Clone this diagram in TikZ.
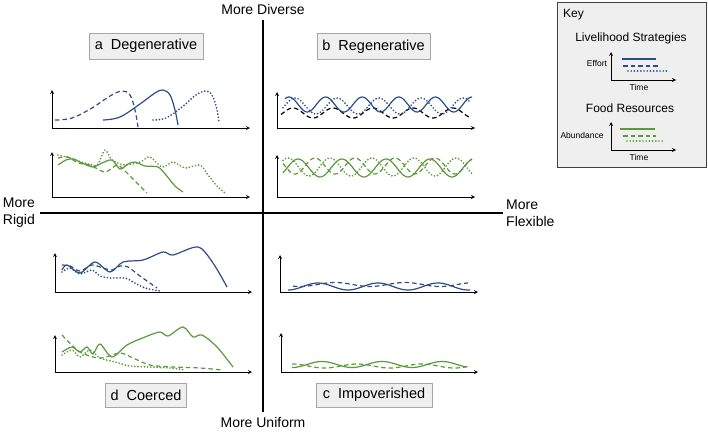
\documentclass[tikz,border=0pt]{standalone}
\usepackage{fontspec}
\setmainfont{Liberation Sans}
\usepackage{tikz}
\usetikzlibrary{positioning}
\definecolor{lblue}{HTML}{2E4D86}
\definecolor{lgreen}{HTML}{5B9A3C}
\definecolor{boxgray}{HTML}{EFEFEF}

\begin{document}
\begin{tikzpicture}[x=1pt, y=-1pt,
    mainaxis/.style={line width=1.6pt, black},
    plotaxis/.style={<->, >=stealth, line width=0.8pt},
    quad/.style={rectangle, draw=black!35, fill=boxgray, minimum height=26pt, inner xsep=5pt, font=\fontsize{14.5}{16}\selectfont},
    axlabel/.style={inner sep=0pt, font=\fontsize{14}{17}\selectfont},
    keytext/.style={inner sep=0pt, font=\fontsize{12}{14}\selectfont},
    small/.style={inner sep=0pt, font=\fontsize{8.5}{10}\selectfont},
    blueline/.style={lblue, line width=1.2pt},
    bluedash/.style={lblue, line width=1.2pt, dash pattern=on 4.5pt off 3pt},
    bluedot/.style={lblue, line width=1.9pt, line cap=round, dash pattern=on 0pt off 3.2pt},
    blackdash/.style={black, line width=1.2pt, dash pattern=on 4.5pt off 3pt},
    greenline/.style={lgreen, line width=1.2pt},
    greendash/.style={lgreen, line width=1.2pt, dash pattern=on 4.5pt off 3pt},
    greendot/.style={lgreen, line width=1.9pt, line cap=round, dash pattern=on 0pt off 3.2pt}]

    \useasboundingbox[fill=white] (0,0) rectangle (708,431);

    % main axes
    \coordinate (top) at (263,20);
    \coordinate (bottom) at (263,412);
    \coordinate (left) at (40,213);
    \coordinate (right) at (503,213);
    \draw [mainaxis] (left) -- (right);
    \draw [mainaxis] (top) -- (bottom);

    \node [axlabel, above=5pt of top] (diverse) {More Diverse};
    \node [axlabel, below=5pt of bottom] (uniform) {More Uniform};
    \node [axlabel, align=left, left=5pt of left] (rigid) {More\\Rigid};
    \node [axlabel, align=left, right=3pt of right] (flexible) {More\\Flexible};

    % quadrant titles
    \node [quad, minimum width=114pt] (qa) at (146,46) {a\ \ Degenerative};
    \node [quad, minimum width=113pt] (qb) at (373.5,46.5) {b\ \ Regenerative};
    \node [quad, minimum width=116pt, minimum height=24pt] (qc) at (374,395) {c\ \ Impoverished};
    \node [quad, minimum width=78pt, minimum height=24pt] (qd) at (146,395) {d\ \ Coerced};

    % small plot axes
    \coordinate (ab-o) at (52,128); \coordinate (ab-y) at (52,90);  \coordinate (ab-x) at (250,128);
    \coordinate (ag-o) at (52,197); \coordinate (ag-y) at (52,152); \coordinate (ag-x) at (250,197);
    \coordinate (bb-o) at (277,128); \coordinate (bb-y) at (277,92);  \coordinate (bb-x) at (475,128);
    \coordinate (bg-o) at (277,197); \coordinate (bg-y) at (277,155); \coordinate (bg-x) at (475,197);
    \coordinate (db-o) at (55,292); \coordinate (db-y) at (55,253); \coordinate (db-x) at (252,292);
    \coordinate (dg-o) at (55,372); \coordinate (dg-y) at (55,335); \coordinate (dg-x) at (252,372);
    \coordinate (cb-o) at (280,292); \coordinate (cb-y) at (280,255); \coordinate (cb-x) at (478,292);
    \coordinate (cg-o) at (281,372); \coordinate (cg-y) at (281,333); \coordinate (cg-x) at (478,372);
    \foreach \p in {ab,ag,bb,bg,db,dg,cb,cg}
        \draw [plotaxis] (\p-y) -- (\p-o) -- (\p-x);

    % a: degenerative
    \draw [bluedash] plot[smooth, tension=0.6] coordinates {(55,120) (72,118) (92,108) (110,96) (122,91) (130,95) (135,110) (138,127)};
    \draw [blueline] plot[smooth, tension=0.6] coordinates {(103,120) (120,117) (140,104) (155,93) (163,90) (170,95) (175,110) (178,125)};
    \draw [bluedot] plot[smooth, tension=0.6] coordinates {(153,120) (166,118) (182,107) (196,95) (207,91) (213,97) (217,110) (219,122)};
    \draw [greenline] plot[smooth] coordinates {(58,165) (66,160) (73,159) (82,163) (93,167) (102,163) (112,160) (120,169) (128,164) (135,162) (145,166) (158,167) (166,175) (175,186) (183,192)};
    \draw [greendash] plot[smooth] coordinates {(58,158) (68,157) (78,163) (90,165) (105,172) (117,165) (124,170) (132,178) (140,186) (147,193)};
    \draw [greendot] plot[smooth] coordinates {(58,155) (70,158) (85,163) (97,165) (105,150) (112,160) (125,165) (140,162) (150,157) (162,167) (173,162) (185,168) (200,165) (208,175) (217,186) (225,193)};

    % b: regenerative
    \draw [blackdash] plot[domain=281:470, samples=120] (\x,{113-5*cos(9*(\x-293))});
    \draw [bluedot] plot[domain=283:470, samples=120] (\x,{106-8*cos(8.571*(\x-295))});
    \draw [blueline] plot[domain=285:472, samples=120] (\x,{104.5-7.5*cos(9.836*(\x-289))});
    \draw [greendash] plot[domain=283:472, samples=120] (\x,{166-8*cos(9*(\x-315))});
    \draw [greendot] plot[domain=283:472, samples=120] (\x,{167-9*cos(8.571*(\x-330))});
    \draw [greenline] plot[domain=283:472, samples=120] (\x,{168-9*cos(8.182*(\x-298))});

    % c: impoverished
    \draw [bluedash] plot[domain=293:468, samples=80] (\x,{284.5+2*cos(5.143*(\x-300))});
    \draw [blueline] plot[domain=288:470, samples=80] (\x,{286.5+3.5*cos(6*(\x-288))});
    \draw [greendash] plot[domain=292:468, samples=80] (\x,{366-2*cos(5.538*(\x-292))});
    \draw [greenline] plot[domain=292:466, samples=80] (\x,{364.5+3*cos(6*(\x-292))});

    % d: coerced
    \draw [blueline] plot[smooth] coordinates {(62,270) (67,265) (80,273) (95,262) (110,272) (123,262) (143,260) (163,252) (173,255) (198,247) (213,263) (227,287)};
    \draw [bluedash] plot[smooth] coordinates {(62,265) (70,266) (80,271) (92,265) (103,268) (112,270) (120,266) (128,267) (140,276) (157,288)};
    \draw [bluedot] plot[smooth] coordinates {(62,272) (70,268) (80,274) (92,270) (100,276) (110,278) (125,278) (133,282) (145,288) (160,291)};
    \draw [greenline] plot[smooth] coordinates {(62,352) (72,347) (80,352) (87,347) (93,354) (100,344) (112,357) (127,345) (145,337) (160,332) (168,336) (183,327) (193,337) (202,335) (217,347) (233,367)};
    \draw [greendash] plot[smooth] coordinates {(62,335) (80,352) (100,358) (120,353) (133,358) (150,365) (173,367) (200,368) (222,370)};
    \draw [greendot] plot[smooth] coordinates {(62,355) (72,350) (80,357) (90,350) (100,358) (115,362) (130,366) (150,367) (170,368) (185,370)};

    % key
    \draw [black!75, line width=1pt, fill=boxgray] (557,2) rectangle (706,167);
    \node [keytext, anchor=west] (key) at (563,15) {Key};
    \node [keytext] (lstitle) at (631,38) {Livelihood Strategies};
    \node [keytext] (frtitle) at (630,108) {Food Resources};
    \coordinate (ls-o) at (611,80); \coordinate (ls-y) at (611,52); \coordinate (ls-x) at (676,80);
    \coordinate (fr-o) at (611,150); \coordinate (fr-y) at (611,122); \coordinate (fr-x) at (676,150);
    \draw [plotaxis] (ls-y) -- (ls-o) -- (ls-x);
    \draw [plotaxis] (fr-y) -- (fr-o) -- (fr-x);
    \node [small] (effort) at (597,63) {Effort};
    \node [small] (abundance) at (582,135) {Abundance};
    \node [small] (time1) at (639,87) {Time};
    \node [small] (time2) at (639,157) {Time};
    \draw [blueline] (622,59) -- (656,59);
    \draw [bluedash] (623,66) -- (658,66);
    \draw [bluedot] (628,71) -- (669,71);
    \draw [greenline] (620,129) -- (655,129);
    \draw [greendash] (623,136) -- (656,136);
    \draw [greendot] (627,141) -- (663,141);
\end{tikzpicture}
\end{document}
